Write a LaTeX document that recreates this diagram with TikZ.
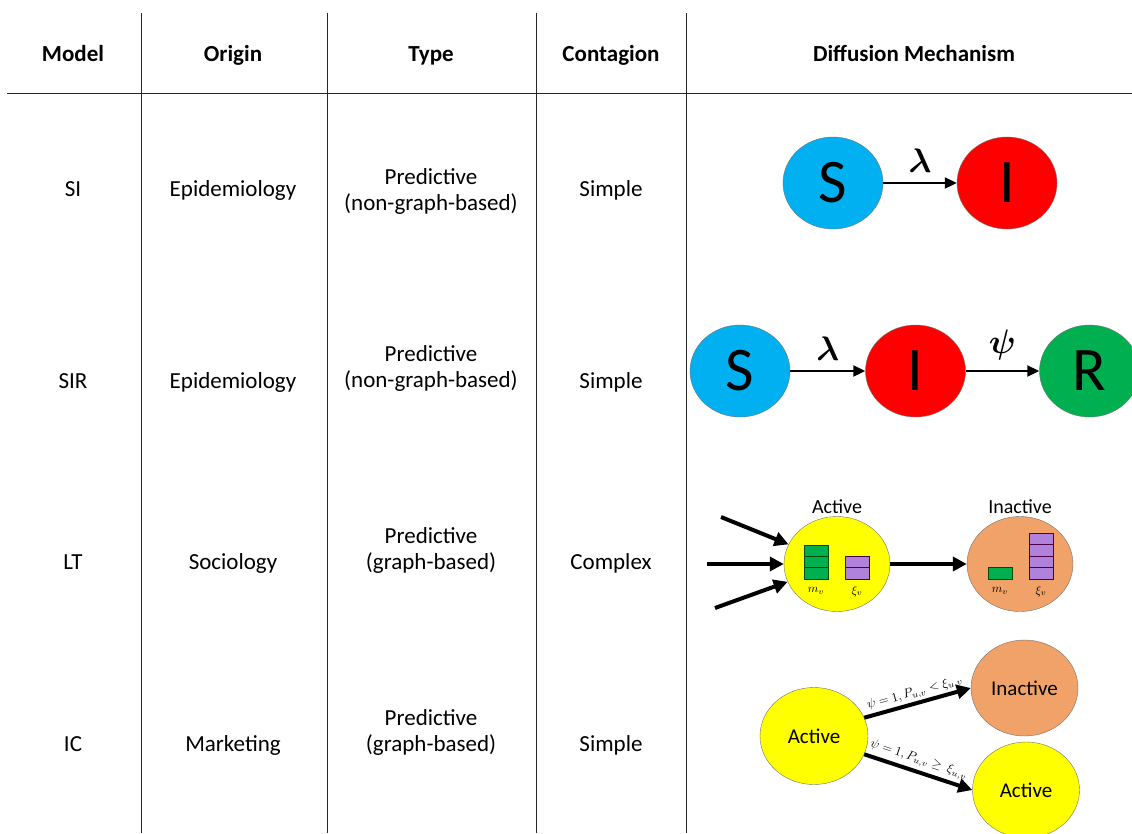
\documentclass[tikz,border=0pt]{standalone}
\usepackage{amsmath}
\usepackage{fontspec}
\setmainfont{Carlito}
\usetikzlibrary{positioning,shapes.geometric,arrows.meta}

\definecolor{siblue}{RGB}{0,176,240}
\definecolor{sired}{RGB}{255,0,0}
\definecolor{sigreen}{RGB}{0,176,80}
\definecolor{actyellow}{RGB}{255,255,0}
\definecolor{inactorange}{RGB}{241,162,104}
\definecolor{xipurple}{RGB}{177,130,220}

\begin{document}
\begin{tikzpicture}
  [x=1pt,y=-1pt,every node/.style={font=\fontsize{23}{26}\selectfont},
   head/.style={font=\fontsize{23}{26}\selectfont\bfseries,anchor=base},
   cell/.style={anchor=base},
   twoline/.style={align=center},
   rule/.style={draw=black!85,line width=1pt},
   state/.style={ellipse,draw=black!55,inner sep=0pt,minimum width=100pt,minimum height=92pt,font=\fontsize{62}{62}\selectfont},
   blob/.style={ellipse,draw=black!55,inner sep=0pt,minimum width=107pt,minimum height=96pt,font=\fontsize{21}{21}\selectfont},
   tag/.style={font=\fontsize{20}{20}\selectfont},
   sub/.style={font=\fontsize{10}{10}\selectfont,scale=1.2},
   cond/.style={font=\fontsize{10}{10}\selectfont,scale=1.27,inner sep=1pt},
   rate/.style={font=\fontsize{10}{10}\selectfont,scale=3.4,above,inner sep=2.2pt},
   mbar/.style={fill=sigreen,draw=green!30!black,line width=0.8pt},
   xbar/.style={fill=xipurple,draw=violet!60!black,line width=0.8pt},
   slim arrow/.style={line width=2pt,-{Triangle[length=12pt,width=11pt]}},
   bold arrow/.style={line width=4pt,-{Triangle[length=14pt,width=14pt]}}]

  \path[use as bounding box,fill=white] (0,0) rectangle (1132,833);
  \clip (0,0) rectangle (1132,833);

  \draw[rule] (7,93) -- (1132,93);
  \foreach \x in {141,327,536,686}
    \draw[rule] (\x,13) -- (\x,833);

  \node[head] (h-model) at (73,61) {Model};
  \node[head] (h-origin) at (233,61) {Origin};
  \node[head] (h-type) at (431,61) {Type};
  \node[head] (h-cont) at (611,61) {Contagion};
  \node[head] (h-mech) at (914,61) {Diffusion Mechanism};

  \node[cell] (si-model) at (73,196) {SI};
  \node[cell] (si-origin) at (233,196) {Epidemiology};
  \node[twoline] (si-type) at (431,191) {Predictive\\(non-graph-based)};
  \node[cell] (si-cont) at (611,196) {Simple};

  \node[cell] (sir-model) at (73,388) {SIR};
  \node[cell] (sir-origin) at (233,388) {Epidemiology};
  \node[twoline] (sir-type) at (431,368) {Predictive\\(non-graph-based)};
  \node[cell] (sir-cont) at (611,388) {Simple};

  \node[cell] (lt-model) at (73,569) {LT};
  \node[cell] (lt-origin) at (233,569) {Sociology};
  \node[twoline] (lt-type) at (431,550) {Predictive\\(graph-based)};
  \node[cell] (lt-cont) at (611,569) {Complex};

  \node[cell] (ic-model) at (73,751) {IC};
  \node[cell] (ic-origin) at (233,751) {Marketing};
  \node[twoline] (ic-type) at (431,732) {Predictive\\(graph-based)};
  \node[cell] (ic-cont) at (611,751) {Simple};

  \node[state,fill=siblue] (si-s) at (833,183) {S};
  \node[state,fill=sired] (si-i) at (1007,183) {I};
  \draw[slim arrow] (si-s) -- node[rate] {$\boldsymbol{\lambda}$} (si-i);

  \node[state,fill=siblue] (sir-s) at (740,371) {S};
  \node[state,fill=sired] (sir-i) at (915.5,371) {I};
  \node[state,fill=sigreen] (sir-r) at (1089.5,371) {R};
  \draw[slim arrow] (sir-s) -- node[rate] {$\boldsymbol{\lambda}$} (sir-i);
  \draw[slim arrow] (sir-i) -- node[rate] {$\boldsymbol{\psi}$} (sir-r);

  \node[blob,fill=actyellow,minimum width=106pt,minimum height=95pt] (lt-act) at (837,564) {};
  \node[blob,fill=inactorange,minimum width=106pt,minimum height=95pt] (lt-inact) at (1020,564) {};
  \node[tag,above=-1pt of lt-act] (lt-act-lbl) {Active};
  \node[tag,above=-1pt of lt-inact] (lt-inact-lbl) {Inactive};

  \foreach \k in {0,1,2}
    \draw[mbar] (804,579-11.3*\k) rectangle ++(24,-11.3);
  \foreach \k in {0,1}
    \draw[xbar] (845,579-11.3*\k) rectangle ++(24,-11.3);
  \draw[mbar] (988,579) rectangle ++(24,-11.3);
  \foreach \k in {0,...,3}
    \draw[xbar] (1029,579-11.4*\k) rectangle ++(24,-11.4);

  \node[sub] (lt-m1) at (816,591) {$m_v$};
  \node[sub] (lt-x1) at (857,591) {$\xi_v$};
  \node[sub] (lt-m2) at (1000,591) {$m_v$};
  \node[sub] (lt-x2) at (1041,591) {$\xi_v$};

  \coordinate (lt-in1) at (721,517);
  \coordinate (lt-in2) at (707,564);
  \coordinate (lt-in3) at (715,608);
  \draw[bold arrow] (lt-in1) -- (lt-act);
  \draw[bold arrow] (lt-in2) -- (lt-act);
  \draw[bold arrow] (lt-in3) -- (lt-act);
  \draw[bold arrow] (lt-act) -- (lt-inact);

  \node[blob,fill=actyellow,minimum width=108pt,minimum height=97pt] (ic-act) at (814,736) {Active};
  \node[blob,fill=inactorange] (ic-inact) at (1024.5,688) {Inactive};
  \node[blob,fill=actyellow] (ic-out) at (1026,790) {Active};
  \draw[bold arrow] (ic-act.20) -- node[cond,above,sloped] {$\psi = 1, P_{u,v} < \xi_{u,v}$} (ic-inact.west);
  \draw[bold arrow] (ic-act.-20) -- node[cond,above,sloped,inner sep=2.5pt,pos=0.47] {$\psi = 1, P_{u,v} \geq\ \xi_{u,v}$} (ic-out.west);

\end{tikzpicture}
\end{document}
